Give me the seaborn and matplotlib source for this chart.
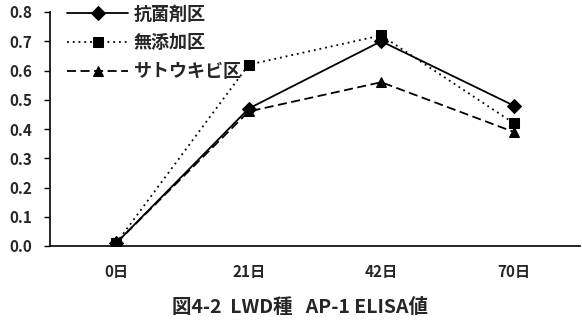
import matplotlib
matplotlib.use("Agg")
import matplotlib.pyplot as plt
import seaborn as sns
import pandas as pd

days = ["0日", "21日", "42日", "70日"]
groups = ["抗菌剤区", "無添加区", "サトウキビ区"]
antibiotic = [0.01, 0.47, 0.70, 0.48]
no_additive = [0.01, 0.62, 0.72, 0.42]
sugarcane = [0.01, 0.46, 0.56, 0.39]
y_ticks = [0.0, 0.1, 0.2, 0.3, 0.4, 0.5, 0.6, 0.7, 0.8]
title = "図4-2  LWD種   AP-1 ELISA値"

sns.set_style("white")
plt.rcParams["font.family"] = ["Noto Sans CJK JP", "DejaVu Sans"]

df = pd.DataFrame({
    "day": days * 3,
    "value": antibiotic + no_additive + sugarcane,
    "group": [g for g in groups for _ in days],
})

fig = plt.figure(figsize=(5.82, 3.26), dpi=100)
ax = fig.add_axes([50 / 582, 1 - 246 / 326, 530 / 582, 234 / 326])

sns.lineplot(
    data=df, x="day", y="value", hue="group", style="group",
    hue_order=groups, style_order=groups,
    palette=["black"] * 3,
    markers={"抗菌剤区": "D", "無添加区": "s", "サトウキビ区": "^"},
    dashes={"抗菌剤区": "", "無添加区": (1, 2.2), "サトウキビ区": (5, 2.5)},
    markersize=7, linewidth=1.3, markeredgecolor="black",
    ax=ax, sort=False,
)

ax.set_xlim(-0.5, 3.5)
ax.set_ylim(0, 0.8)
ax.set_yticks(y_ticks)
ax.set_yticklabels([f"{v:.1f}" for v in y_ticks], fontsize=11, fontweight="bold")
ax.set_xticks(range(len(days)))
ax.set_xticklabels(days, fontsize=11, fontweight="bold")
ax.set_xticks([0.5, 1.5, 2.5, 3.5], minor=True)
ax.tick_params(axis="x", which="major", length=0, pad=13)
ax.tick_params(axis="x", which="minor", direction="in", length=4, width=1, color="black")
ax.tick_params(axis="y", which="major", direction="out", length=4, width=1, color="black", pad=9, left=True)
ax.set_xlabel("")
ax.set_ylabel("")
for side in ["top", "right"]:
    ax.spines[side].set_visible(False)
for side in ["left", "bottom"]:
    ax.spines[side].set_color("black")
    ax.spines[side].set_linewidth(1.2)

leg = ax.legend(
    loc="upper left", bbox_to_anchor=(0.032, 1.032), frameon=False,
    fontsize=13, handlelength=3.4, handletextpad=0.3, labelspacing=0.55,
    borderaxespad=0, borderpad=0,
)
for t in leg.get_texts():
    t.set_fontweight("bold")

fig.text(0.515, 0.058, title, ha="center", va="center", fontsize=14, fontweight="bold")

fig.savefig("out.png", dpi=100)
